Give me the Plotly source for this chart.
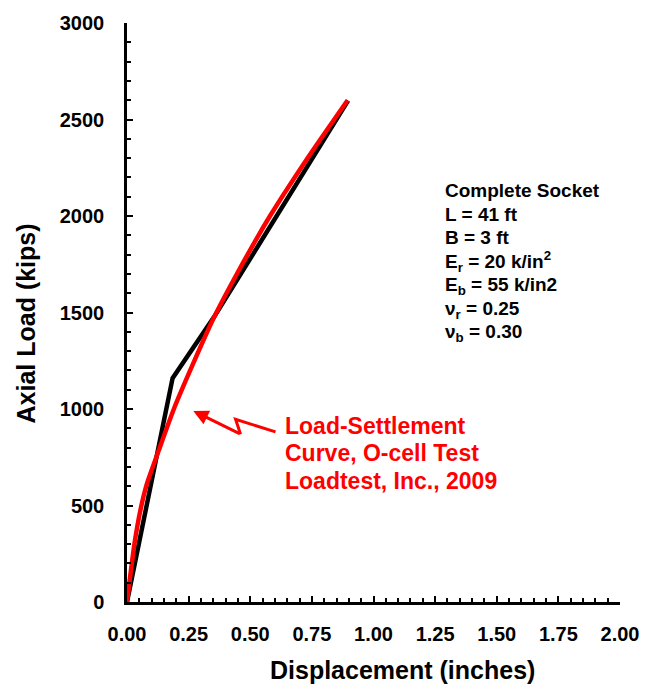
import plotly.graph_objects as go

# Data
black_x = [0.0, 0.185, 0.355, 0.60, 0.897]
black_y = [0, 1160, 1480, 1990, 2598]
red_x = [0.0, 0.03, 0.055, 0.08, 0.13, 0.19, 0.27, 0.355, 0.45, 0.58, 0.735, 0.895]
red_y = [0, 300, 480, 610, 790, 1000, 1240, 1480, 1710, 2000, 2305, 2600]

info_lines = [
    "Complete Socket",
    "L = 41 ft",
    "B = 3 ft",
    "E<sub>r</sub> = 20 k/in<sup>2</sup>",
    "E<sub>b</sub> = 55 k/in2",
    "ν<sub>r</sub> = 0.25",
    "ν<sub>b</sub> = 0.30",
]
red_lines = ["Load-Settlement", "Curve, O-cell Test", "Loadtest, Inc., 2009"]

FONT = "Liberation Sans, Arial, sans-serif"

# plot area in pixels
L, R, T, B = 127, 625, 20, 602
W, H = 651, 693


def px(xp):
    return (xp - L) / (R - L)


def py(yp):
    return (B - yp) / (B - T)


def dx(xp):
    return (xp - L) / (R - L) * 2.0


def dy(yp):
    return (B - yp) / (B - T) * 3000.0


fig = go.Figure()
fig.add_trace(go.Scatter(x=black_x, y=black_y, mode="lines",
                         line=dict(color="black", width=4.5), showlegend=False))
fig.add_trace(go.Scatter(x=red_x, y=red_y, mode="lines",
                         line=dict(color="#ff0000", width=4.5, shape="spline", smoothing=0.5),
                         showlegend=False))

annotations = []
# info block
for i, t in enumerate(info_lines):
    annotations.append(dict(
        text=t, xref="paper", yref="paper", x=px(446), y=py(188 + 24 * i),
        xanchor="left", yanchor="middle", showarrow=False,
        font=dict(family=FONT, size=19, color="black", weight="bold")))
# red label
for i, t in enumerate(red_lines):
    annotations.append(dict(
        text=t, xref="paper", yref="paper", x=px(285), y=py(425 + 27.5 * i),
        xanchor="left", yanchor="middle", showarrow=False,
        font=dict(family=FONT, size=23, color="#ff0000", weight="bold")))
# arrow
annotations.append(dict(
    text="", x=dx(194), y=dy(410), xref="x", yref="y",
    ax=47.7, ay=23.3, showarrow=True, arrowhead=2, arrowsize=1.0,
    arrowwidth=3, arrowcolor="#ff0000", standoff=0))
# axis titles
annotations.append(dict(
    text="Axial Load (kips)", xref="paper", yref="paper", x=px(25), y=py(322),
    xanchor="center", yanchor="middle", textangle=-90, showarrow=False,
    font=dict(family=FONT, size=25, color="black", weight="bold")))
annotations.append(dict(
    text="Displacement (inches)", xref="paper", yref="paper", x=px(405), y=py(670),
    xanchor="center", yanchor="middle", showarrow=False,
    font=dict(family=FONT, size=25, color="black", weight="bold")))

shapes = [dict(
    type="path",
    path=f"M {dx(241.7)},{dy(433.3)} L {dx(236.7)},{dy(418.3)} L {dx(277)},{dy(431)}",
    xref="x", yref="y", line=dict(color="#ff0000", width=3))]

fig.update_layout(
    width=W, height=H,
    margin=dict(l=L, r=W - R, t=T, b=H - B),
    plot_bgcolor="white", paper_bgcolor="white",
    annotations=annotations, shapes=shapes,
    showlegend=False,
)
fig.update_xaxes(
    range=[0, 2], dtick=0.25, tick0=0, tickformat=".2f",
    showgrid=False, zeroline=False, showline=True, linecolor="black", linewidth=2.5,
    ticks="inside", ticklen=6, tickwidth=2, tickcolor="black",
    minor=dict(ticks="inside", ticklen=4, tickwidth=1.5, tickcolor="black", dtick=0.05, showgrid=False),
    tickfont=dict(family=FONT, size=20, color="black", weight="bold"),
    ticklabelstandoff=12,
)
fig.update_yaxes(
    range=[0, 3000], dtick=500, tick0=0,
    showgrid=False, zeroline=False, showline=True, linecolor="black", linewidth=2.5,
    ticks="inside", ticklen=6, tickwidth=2, tickcolor="black",
    minor=dict(ticks="inside", ticklen=4, tickwidth=1.5, tickcolor="black", dtick=100, showgrid=False),
    tickfont=dict(family=FONT, size=20, color="black", weight="bold"),
    ticklabelstandoff=16,
)

fig.write_html("out.html")
